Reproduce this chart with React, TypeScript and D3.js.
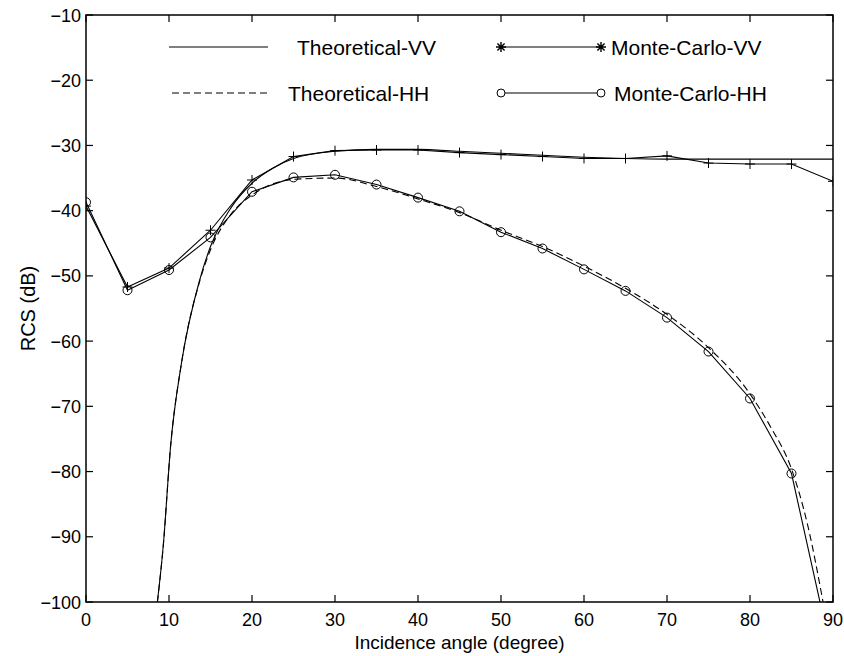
import React from "react";
import * as d3 from "d3";

const angles = [0, 5, 10, 15, 20, 25, 30, 35, 40, 45, 50, 55, 60, 65, 70, 75, 80, 85, 90];
const mcVV = [-39.3, -51.7, -48.8, -43.0, -35.3, -31.7, -30.8, -30.7, -30.7, -31.1, -31.4, -31.7, -32.0, -32.0, -31.6, -32.7, -32.85, -32.85, -35.5];
const mcHH = [-38.7, -52.2, -49.1, -44.1, -37.1, -34.9, -34.5, -36.0, -38.0, -40.1, -43.3, -45.8, -49.0, -52.3, -56.4, -61.6, -68.8, -80.3, -109];

const thVVAngles = [8.6, 9.3, 10.2, 11.5, 13.7, 15, 17.5, 20, 22.5, 25, 30, 35, 40, 45, 50, 55, 60, 65, 70, 75, 80, 85, 90];
const thVV = [-100, -91.5, -76, -63.4, -50.6, -45.5, -39.5, -35.8, -33.5, -32.0, -30.9, -30.6, -30.6, -30.9, -31.2, -31.5, -31.8, -32.0, -32.1, -32.1, -32.1, -32.1, -32.1];
const thHHAngles = [8.6, 9.3, 10.2, 11.5, 13.7, 15, 17.5, 20, 22.5, 25, 30, 35, 40, 45, 50, 55, 60, 65, 70, 75, 80, 82.5, 85, 87, 88.8];
const thHH = [-100, -91.5, -76, -63.4, -50.8, -46, -40.5, -37.6, -35.9, -35.2, -35.0, -36.3, -38.2, -40.3, -43.0, -45.5, -48.5, -51.9, -55.9, -61.0, -68.1, -73.2, -79.6, -88.5, -100];

const xTicks = [0, 10, 20, 30, 40, 50, 60, 70, 80, 90];
const yTicks = [-100, -90, -80, -70, -60, -50, -40, -30, -20, -10];
const legendLabels = ["Theoretical-VV", "Theoretical-HH", "Monte-Carlo-VV", "Monte-Carlo-HH"];
const xLabel = "Incidence angle (degree)";
const yLabel = "RCS (dB)";

const W = 844, H = 656;
const L = 86, R = 833, T = 15, B = 602;
const FONT = "'Liberation Sans', Arial, Helvetica, sans-serif";

export default function App() {
  const x = d3.scaleLinear().domain([0, 90]).range([L, R]);
  const y = d3.scaleLinear().domain([-100, -10]).range([B, T]);
  const line = d3.line<[number, number]>().x(d => x(d[0])).y(d => y(d[1]));
  const smooth = d3.line<[number, number]>().x(d => x(d[0])).y(d => y(d[1])).curve(d3.curveMonotoneX);
  const mcVVPts = angles.map((a, i) => [a, mcVV[i]] as [number, number]);
  const mcHHPts = angles.map((a, i) => [a, mcHH[i]] as [number, number]);
  const thVVPts = thVVAngles.map((a, i) => [a, thVV[i]] as [number, number]);
  const thHHPts = thHHAngles.map((a, i) => [a, thHH[i]] as [number, number]);
  const tl = 7;
  const plus = (cx: number, cy: number, k: string) => (
    <path key={k} d={`M${cx - 5},${cy}H${cx + 5}M${cx},${cy - 5}V${cy + 5}`} stroke="#000" strokeWidth={1} fill="none" />
  );
  const star = (cx: number, cy: number) => (
    <path d={`M${cx - 5},${cy}H${cx + 5}M${cx},${cy - 5}V${cy + 5}M${cx - 3.6},${cy - 3.6}L${cx + 3.6},${cy + 3.6}M${cx - 3.6},${cy + 3.6}L${cx + 3.6},${cy - 3.6}`} stroke="#000" strokeWidth={1.4} fill="none" />
  );
  const fs = 18;
  const lfs = 21;
  return (
    <svg width={W} height={H} style={{ position: "absolute", left: 0, top: 0, background: "#fff" }} fontFamily={FONT}>
      <rect x={0} y={0} width={W} height={H} fill="#fff" />
      <defs>
        <clipPath id="plotclip">
          <rect x={L} y={T} width={R - L} height={B - T} />
        </clipPath>
      </defs>
      <g clipPath="url(#plotclip)" fill="none" stroke="#000">
        <path d={smooth(thVVPts) || ""} strokeWidth={1.1} />
        <path d={smooth(thHHPts) || ""} strokeWidth={1.1} strokeDasharray="7,4" />
        <path d={line(mcVVPts) || ""} strokeWidth={1.1} />
        <path d={line(mcHHPts) || ""} strokeWidth={1.1} />
        {mcVVPts.map((p, i) => plus(x(p[0]), y(p[1]), "v" + i))}
        {mcHHPts.map((p, i) => (
          <circle key={"h" + i} cx={x(p[0])} cy={y(p[1])} r={4.5} strokeWidth={1} fill="none" />
        ))}
      </g>
      <rect x={L} y={T} width={R - L} height={B - T} fill="none" stroke="#000" strokeWidth={1.5} />
      {xTicks.map(t => (
        <g key={"xt" + t}>
          <line x1={x(t)} x2={x(t)} y1={B} y2={B - tl} stroke="#000" strokeWidth={1.2} />
          <line x1={x(t)} x2={x(t)} y1={T} y2={T + tl} stroke="#000" strokeWidth={1.2} />
          <text x={x(t)} y={B + 24} textAnchor="middle" fontSize={fs}>{t}</text>
        </g>
      ))}
      {yTicks.map(t => (
        <g key={"yt" + t}>
          <line x1={L} x2={L + tl} y1={y(t)} y2={y(t)} stroke="#000" strokeWidth={1.2} />
          <line x1={R} x2={R - tl} y1={y(t)} y2={y(t)} stroke="#000" strokeWidth={1.2} />
          <text x={L - 5} y={y(t) + 6.5} textAnchor="end" fontSize={fs}>{String(t).replace("-", "\u2212")}</text>
        </g>
      ))}
      <text x={(L + R) / 2} y={B + 47} textAnchor="middle" fontSize={19}>{xLabel}</text>
      <text transform={`translate(35,${(T + B) / 2}) rotate(-90)`} textAnchor="middle" fontSize={20}>{yLabel}</text>
      <g stroke="#000" fill="none">
        <line x1={169} x2={268} y1={47} y2={47} strokeWidth={1.1} />
        <line x1={172} x2={269} y1={93} y2={93} strokeWidth={1.1} strokeDasharray="7,4" />
        <line x1={501} x2={601} y1={47} y2={47} strokeWidth={1.1} />
        <line x1={501} x2={601} y1={93} y2={93} strokeWidth={1.1} />
        {star(501, 47)}
        {star(601, 47)}
        <circle cx={501} cy={93} r={4} strokeWidth={1} fill="#fff" />
        <circle cx={601} cy={93} r={4} strokeWidth={1} fill="#fff" />
      </g>
      <text x={297} y={54.5} fontSize={lfs}>{legendLabels[0]}</text>
      <text x={288} y={100.5} fontSize={lfs}>{legendLabels[1]}</text>
      <text x={611} y={54.5} fontSize={lfs}>{legendLabels[2]}</text>
      <text x={614} y={100.5} fontSize={lfs}>{legendLabels[3]}</text>
    </svg>
  );
}
